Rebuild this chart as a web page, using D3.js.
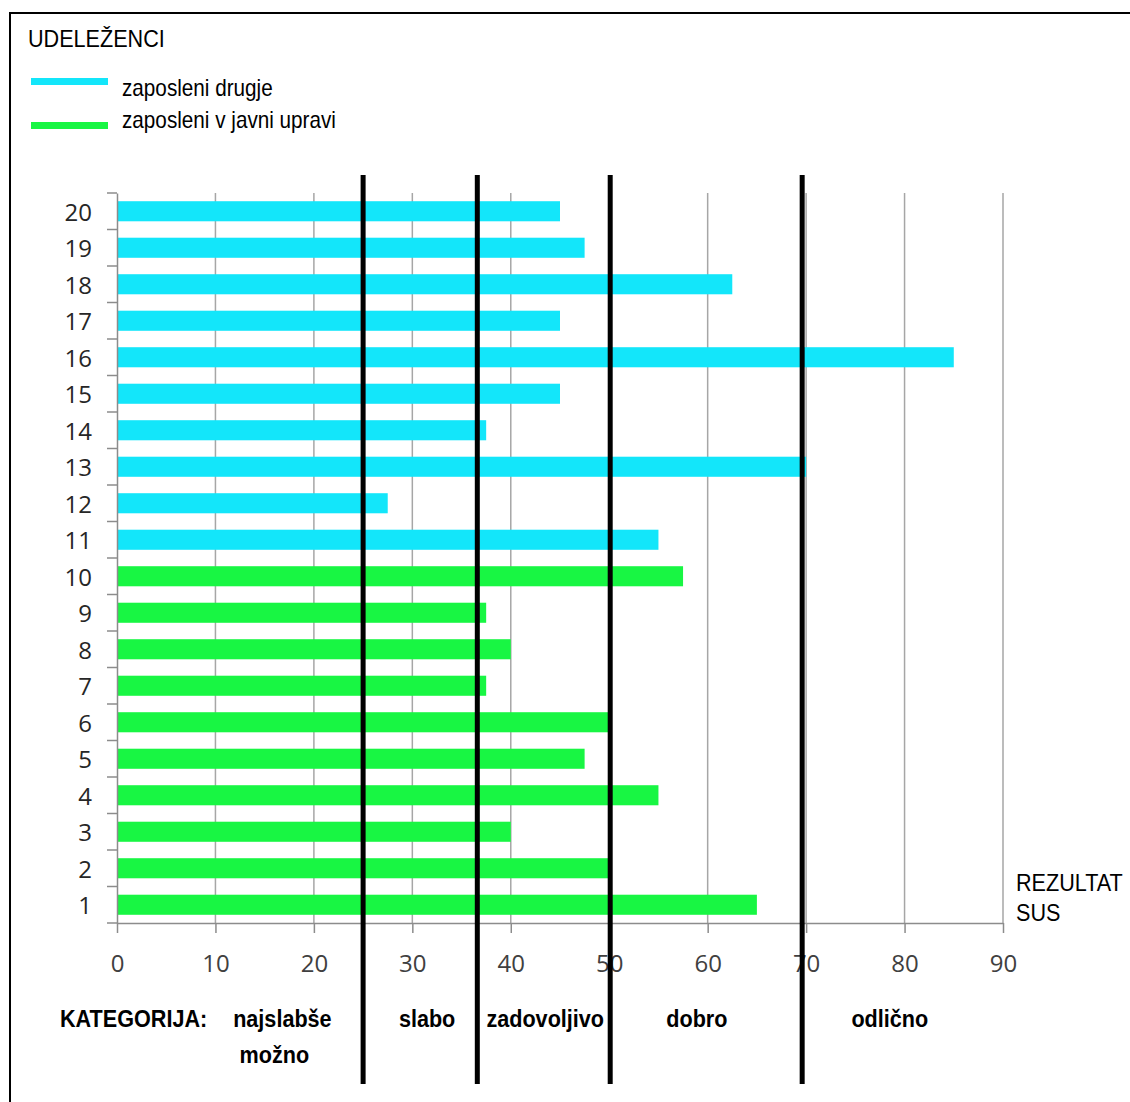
<!DOCTYPE html>
<html lang="sl">
<head>
  <meta charset="UTF-8">
  <title>SUS rezultat po udeležencih</title>
  <style>
    body { margin: 0; background: #fff; }
    svg { display: block; }
    .lbl { font-family: "Liberation Sans", Arial, sans-serif; fill: #000; }
    .axis text { font-family: "Open Sans", "Noto Sans", sans-serif; }
  </style>
</head>
<body>
  <script src="https://cdnjs.cloudflare.com/ajax/libs/d3/7.8.5/d3.min.js"></script>
  <svg></svg>
  <script>
    // participants 1-10: public administration, 11-20: others
    var publicIds = [1, 2, 3, 4, 5, 6, 7, 8, 9, 10];
    var publicScores = [65, 50, 40, 55, 47.5, 50, 37.5, 40, 37.5, 57.5];
    var otherIds = [11, 12, 13, 14, 15, 16, 17, 18, 19, 20];
    var otherScores = [55, 27.5, 70, 37.5, 45, 85, 45, 62.5, 47.5, 45];
    var seriesNames = ['zaposleni drugje', 'zaposleni v javni upravi'];
    var xTicks = [0, 10, 20, 30, 40, 50, 60, 70, 80, 90];
    var boundaries = [25, 36.6, 50.1, 69.6];
    var categories = ['najslabše možno', 'slabo', 'zadovoljivo', 'dobro', 'odlično'];
    // where each category name sits on the SUS scale
    var categoryAt = [16.8, 31.5, 43.5, 58.9, 78.5];

    var width = 1130, height = 1102;
    var plot = {left: 117, right: 1003, top: 193, bottom: 923};
    var colors = {'zaposleni drugje': '#13e6fa', 'zaposleni v javni upravi': '#18f643'};

    var rows = publicIds.map(function(id, i) {
      return {id: id, score: publicScores[i], group: seriesNames[1]};
    }).concat(otherIds.map(function(id, i) {
      return {id: id, score: otherScores[i], group: seriesNames[0]};
    }));

    var svg = d3.select('svg')
      .attr('width', width)
      .attr('height', height);

    // slightly condensed text, like the original
    function label(x, y, str, size, bold, anchor) {
      return svg.append('g')
        .attr('transform', 'translate(' + x + ',' + y + ') scale(0.9,1)')
        .append('text')
          .attr('class', 'lbl')
          .attr('font-size', size)
          .attr('font-weight', bold ? 'bold' : 'normal')
          .attr('text-anchor', anchor || 'start')
          .text(str);
    }

    // frame
    svg.append('rect')
      .attr('x', 10).attr('y', 13)
      .attr('width', 1130).attr('height', 1100)
      .attr('fill', 'none')
      .attr('stroke', '#000')
      .attr('stroke-width', 2);

    var xScale = d3.scaleLinear()
      .domain([0, 90])
      .range([plot.left, plot.right]);

    var yScale = d3.scaleBand()
      .domain(rows.map(function(d) { return d.id; }).sort(function(a, b) { return b - a; }))
      .range([plot.top, plot.bottom])
      .paddingInner(0.45)
      .paddingOuter(0.225);

    // gridlines
    svg.append('g')
      .selectAll('line')
      .data(xTicks.slice(1))
      .enter()
      .append('line')
        .attr('x1', function(d) { return xScale(d); })
        .attr('x2', function(d) { return xScale(d); })
        .attr('y1', plot.top)
        .attr('y2', plot.bottom)
        .attr('stroke', '#a6a6a6')
        .attr('stroke-width', 1.5);

    // bars
    svg.append('g')
      .selectAll('rect')
      .data(rows)
      .enter()
      .append('rect')
        .attr('x', xScale(0))
        .attr('y', function(d) { return yScale(d.id); })
        .attr('width', function(d) { return xScale(d.score) - xScale(0); })
        .attr('height', yScale.bandwidth())
        .attr('fill', function(d) { return colors[d.group]; });

    // left axis
    var yAxis = svg.append('g')
      .attr('class', 'axis')
      .attr('transform', 'translate(' + plot.left + ',0)')
      .call(d3.axisLeft(yScale).tickSize(0).tickSizeOuter(0).tickPadding(25));
    yAxis.select('.domain').attr('stroke', '#8c8c8c').attr('stroke-width', 1.5);
    yAxis.selectAll('text').attr('font-size', 24).attr('fill', '#262626').attr('dy', '0.4em');

    // ticks between the bands
    var edges = yScale.domain().map(function(id) { return yScale(id) - yScale.step() * yScale.paddingOuter(); });
    edges.push(plot.bottom);
    svg.append('g')
      .selectAll('line')
      .data(edges)
      .enter()
      .append('line')
        .attr('x1', plot.left - 10)
        .attr('x2', plot.left)
        .attr('y1', function(d) { return d; })
        .attr('y2', function(d) { return d; })
        .attr('stroke', '#8c8c8c')
        .attr('stroke-width', 1.5);

    // bottom axis
    var xAxis = svg.append('g')
      .attr('class', 'axis')
      .attr('transform', 'translate(0,' + plot.bottom + ')')
      .call(d3.axisBottom(xScale).tickValues(xTicks).tickSize(10).tickSizeOuter(0));
    xAxis.select('.domain').attr('stroke', '#8c8c8c').attr('stroke-width', 1.5);
    xAxis.selectAll('.tick line').attr('stroke', '#8c8c8c').attr('stroke-width', 1.5);
    xAxis.selectAll('text')
      .attr('y', 41)
      .attr('dy', '0.35em')
      .attr('font-size', 24)
      .attr('fill', '#404040');

    // category boundaries
    svg.append('g')
      .selectAll('line')
      .data(boundaries)
      .enter()
      .append('line')
        .attr('x1', function(d) { return xScale(d); })
        .attr('x2', function(d) { return xScale(d); })
        .attr('y1', 175)
        .attr('y2', 1084)
        .attr('stroke', '#000')
        .attr('stroke-width', 5);

    // legend
    label(28, 47, 'UDELEŽENCI', 24);
    seriesNames.forEach(function(name, i) {
      svg.append('rect')
        .attr('x', 31).attr('y', 78 + i * 44)
        .attr('width', 77).attr('height', 7)
        .attr('fill', colors[name]);
      label(122, 96 + i * 32, name, 23);
    });

    // axis title
    label(1016, 891, 'REZULTAT', 24);
    label(1016, 921, 'SUS', 24);

    // category labels
    label(60, 1027, 'KATEGORIJA:', 24, true);
    categories.forEach(function(c, i) {
      var cx = xScale(categoryAt[i]);
      c.split(' ').forEach(function(p, j) {
        label(cx - j * 8, 1027 + j * 36, p, 24, true, 'middle');
      });
    });
  </script>
</body>
</html>
